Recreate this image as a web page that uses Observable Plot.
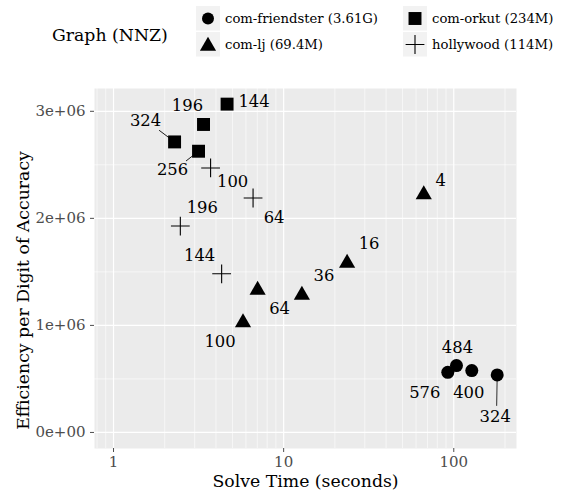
<!DOCTYPE html>
<html><head><meta charset="utf-8">
<script src="https://cdn.jsdelivr.net/npm/d3@7"></script>
<script src="https://cdn.jsdelivr.net/npm/@observablehq/plot@0.6"></script>
<style>
body{margin:0;background:#fff;font-family:"DejaVu Serif",serif;}
#wrap{position:relative;width:561px;height:498px;overflow:hidden;}
#legend{position:absolute;left:0;top:0;width:561px;height:70px;}
#chart{position:absolute;left:0;top:70px;}
g[aria-label="ytitle"] text{letter-spacing:2.4px;}
</style></head><body><div id="wrap"><div id="legend"></div><div id="chart"></div></div>
<script>
// ---- data ----
const friendsterTime = [92.2, 103.7, 127.6, 180];
const friendsterEff = [562000, 625000, 578000, 537000];
const friendsterLabel = ["576", "484", "400", "324"];

const orkutTime = [2.285, 3.16, 3.38, 4.65];
const orkutEff = [2714000, 2627000, 2877000, 3067000];
const orkutLabel = ["324", "256", "196", "144"];

const ljTime = [5.77, 7.03, 12.8, 23.6, 66.6];
const ljEff = [1027000, 1331000, 1284000, 1582000, 2222000];
const ljLabel = ["100", "64", "36", "16", "4"];

const hollywoodTime = [3.72, 6.61, 2.47, 4.32];
const hollywoodEff = [2471000, 2190000, 1928000, 1482000];
const hollywoodLabel = ["100", "64", "196", "144"];

const seriesNames = ["com-friendster (3.61G)", "com-lj (69.4M)", "com-orkut (234M)", "hollywood (114M)"];

const xTicks = [1, 10, 100];
const xTickLabels = ["1", "10", "100"];
const xMinorGrid = [0.8, 0.9, 2, 3, 4, 5, 6, 7, 8, 9, 20, 30, 40, 50, 60, 70, 80, 90, 200];
const yTicks = [0, 1e6, 2e6, 3e6];
const yTickLabels = ["0e+00", "1e+06", "2e+06", "3e+06"];
const yMinorGrid = [0.5e6, 1.5e6, 2.5e6];

// ---- label layout (repel placement, pixels) ----
const friendsterNudge = [[-23, 20], [1, -18], [-3, 22], [-2, 42]];
const orkutNudge = [[-29, -21], [-26, 19], [-16, -19], [27, -2]];
const ljNudge = [[-23, 19], [22, 19], [22, -19], [22, -19], [17, -14]];
const hollywoodNudge = [[22, 14], [21, 20], [22, -18], [-22, -18]];
// leader segments: [series, index, length px, angle deg]
const leaders = [["orkut", 0, 19, 307], ["orkut", 1, 15.5, 232], ["friendster", 3, 30.5, 181]];

function build(key, name, xs, ys, labs, nudges) {
  return xs.map((x, i) => ({key, series: name, time: x, eff: ys[i], label: labs[i], nudge: nudges[i]}));
}
const friendster = build("friendster", seriesNames[0], friendsterTime, friendsterEff, friendsterLabel, friendsterNudge);
const lj = build("lj", seriesNames[1], ljTime, ljEff, ljLabel, ljNudge);
const orkut = build("orkut", seriesNames[2], orkutTime, orkutEff, orkutLabel, orkutNudge);
const hollywood = build("hollywood", seriesNames[3], hollywoodTime, hollywoodEff, hollywoodLabel, hollywoodNudge);
const all = [...friendster, ...lj, ...orkut, ...hollywood];
const bySeries = {friendster, lj, orkut, hollywood};

const FONT = '"DejaVu Serif", serif';
const lineShape = {draw(ctx, l) { ctx.moveTo(0, 0); ctx.lineTo(0, -l); }};

const leaderMarks = leaders.map(([k, i, len, ang]) =>
  Plot.vector([bySeries[k][i]], {x: "time", y: "eff", length: len, rotate: ang, anchor: "start",
    shape: lineShape, stroke: "black", strokeWidth: 0.8}));

const labelMarks = all.map(d =>
  Plot.text([d], {x: "time", y: "eff", text: "label", dx: d.nudge[0], dy: d.nudge[1],
    fontSize: 16.4, fill: "black"}));

const plot = Plot.plot({
  width: 561, height: 428,
  marginTop: 18, marginBottom: 50, marginLeft: 94, marginRight: 45,
  style: {fontFamily: FONT, background: "transparent", overflow: "visible"},
  x: {type: "log", domain: [0.773, 233.7]},
  y: {domain: [-150000, 3213000]},
  marks: [
    Plot.frame({fill: "#EBEBEB", stroke: null}),
    Plot.ruleX(xMinorGrid, {stroke: "white", strokeWidth: 0.6}),
    Plot.ruleY(yMinorGrid, {stroke: "white", strokeWidth: 0.6}),
    Plot.ruleX(xTicks, {stroke: "white", strokeWidth: 1.2}),
    Plot.ruleY(yTicks, {stroke: "white", strokeWidth: 1.2}),
    Plot.axisX({ticks: xTicks, tickFormat: (d) => xTickLabels[xTicks.indexOf(d)], tickSize: 4, tickPadding: 4,
      fontSize: 15, color: "#4D4D4D", label: null}),
    Plot.axisY({ticks: yTicks, tickFormat: (d) => yTickLabels[yTicks.indexOf(d)], tickSize: 4, tickPadding: 5,
      fontSize: 15, color: "#4D4D4D", label: null}),
    Plot.text(["Solve Time (seconds)"], {frameAnchor: "bottom", dy: 38, fontSize: 17.3, fill: "black"}),
    Plot.text(["Efficiency per Digit of Accuracy"], {frameAnchor: "left", dx: -71, dy: 22, rotate: -90, fontSize: 17.3,
      textAnchor: "middle", fill: "black", ariaLabel: "ytitle"}),
    ...leaderMarks,
    Plot.dot(friendster, {x: "time", y: "eff", symbol: "circle", r: 6.5, fill: "black", stroke: null}),
    Plot.dot(lj, {x: "time", y: "eff", symbol: "triangle", r: 6, fill: "black", stroke: null}),
    Plot.dot(orkut, {x: "time", y: "eff", symbol: "square", r: 7.3, fill: "black", stroke: null}),
    Plot.dot(hollywood, {x: "time", y: "eff", symbol: "plus", r: 6.1, fill: "none", stroke: "black", strokeWidth: 1.1}),
    ...labelMarks
  ]
});
document.getElementById("chart").appendChild(plot);

// ---- legend ----
const lg = d3.select("#legend").append("svg").attr("width", 561).attr("height", 70)
  .style("font-family", FONT);
lg.append("text").attr("x", 52).attr("y", 41).attr("font-size", 17.3).attr("fill", "black").text("Graph (NNZ)");
const keys = [
  {name: seriesNames[0], sym: d3.symbolCircle, r: 6, col: 0, row: 0, fill: true},
  {name: seriesNames[1], sym: d3.symbolTriangle, r: 6, col: 0, row: 1, fill: true},
  {name: seriesNames[2], sym: d3.symbolSquare, r: 7.3, col: 1, row: 0, fill: true},
  {name: seriesNames[3], sym: d3.symbolPlus, r: 6.1, col: 1, row: 1, fill: false}
];
const colX = [196, 403], rowY = [6, 32];
keys.forEach(k => {
  const x0 = colX[k.col], y0 = rowY[k.row];
  lg.append("rect").attr("x", x0).attr("y", y0).attr("width", 24).attr("height", 24.5).attr("fill", "#F2F2F2");
  const g = lg.append("path")
    .attr("d", d3.symbol(k.sym, Math.PI * k.r * k.r)())
    .attr("transform", `translate(${x0 + 12},${y0 + 12.5 + (k.sym === d3.symbolTriangle ? 1.5 : 0)})`);
  if (k.fill) g.attr("fill", "black"); else g.attr("fill", "none").attr("stroke", "black").attr("stroke-width", 1.1);
  lg.append("text").attr("x", x0 + 29).attr("y", y0 + 17).attr("font-size", 13.2).attr("fill", "black").text(k.name);
});
</script>
</body></html>
